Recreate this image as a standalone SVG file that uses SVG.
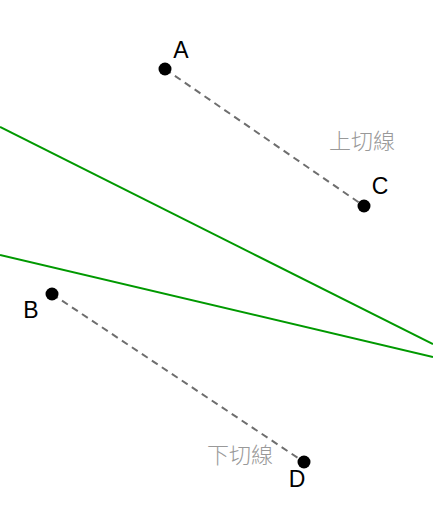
<svg xmlns="http://www.w3.org/2000/svg" width="433" height="516" viewBox="0 0 433 516">
<style>
.tan{stroke:#009900;stroke-width:2;fill:none}
.seg{stroke:#6e6e6e;stroke-width:2;stroke-dasharray:7,5;fill:none}
.pt{fill:#000}
.lbl{font-family:"Liberation Sans",Arial,sans-serif;font-size:23px;fill:#000;text-anchor:middle}
.cap{font-family:"Noto Sans CJK TC","Noto Sans CJK SC",sans-serif;font-size:22px;font-weight:300;fill:#999;text-anchor:middle}
</style>
<rect width="433" height="516" fill="#fff"/>
<g id="connectors">
<line class="tan" x1="0" y1="127" x2="433" y2="344"/>
<line class="tan" x1="0" y1="255" x2="433" y2="357"/>
<line class="seg" x1="165" y1="69" x2="364" y2="206"/>
<line class="seg" x1="52" y1="294" x2="304" y2="462"/>
</g>
<g id="A"><circle class="pt" cx="165" cy="69" r="6.5"/><text class="lbl" x="181" y="58">A</text></g>
<g id="C"><circle class="pt" cx="364" cy="206" r="6.5"/><text class="lbl" x="380" y="194">C</text></g>
<g id="B"><circle class="pt" cx="52" cy="294" r="6.5"/><text class="lbl" x="31" y="318">B</text></g>
<g id="D"><circle class="pt" cx="304" cy="462" r="6.5"/><text class="lbl" x="297" y="487">D</text></g>
<g id="upper"><text class="cap" x="362" y="149">上切線</text></g>
<g id="lower"><text class="cap" x="240" y="463">下切線</text></g>
</svg>
